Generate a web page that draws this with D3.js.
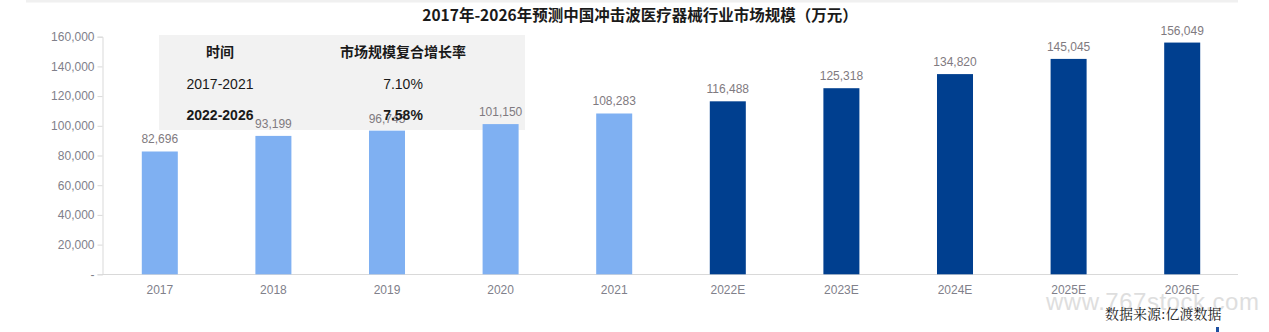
<!DOCTYPE html>
<html><head><meta charset="utf-8">
<script src="https://cdn.jsdelivr.net/npm/d3@7/dist/d3.min.js"></script>
<style>body{margin:0;background:#fff}svg{display:block}</style>
</head><body>
<svg id="c" width="1269" height="332"></svg>
<script>
const categories = ["2017","2018","2019","2020","2021","2022E","2023E","2024E","2025E","2026E"];
const values = [82696,93199,96745,101150,108283,116488,125318,134820,145045,156049];
const forecast = [false,false,false,false,false,true,true,true,true,true];
const yTicks = [0,20000,40000,60000,80000,100000,120000,140000,160000];
const tableHeader = ["时间","市场规模复合增长率"];
const tableRows = [["2017-2021","7.10%"],["2022-2026","7.58%"]];
const title = "2017年-2026年预测中国冲击波医疗器械行业市场规模（万元）";
const source = "数据来源:亿渡数据";
const watermark = "www.767stock.com";

const svg = d3.select("#c");
const font = "'Liberation Sans', Arial, sans-serif";
const x = d3.scaleBand().domain(categories).range([103, 1239]).paddingInner(0.683).paddingOuter(0.3415);
const y = d3.scaleLinear().domain([0,160000]).range([274.3, 36.7]);

// top strip
svg.append("rect").attr("x",26).attr("y",0).attr("width",1212).attr("height",2.5).attr("fill","#f0f0f0");

// title
svg.append("text").attr("x",640).attr("y",21).attr("text-anchor","middle")
  .attr("font-family","'Noto Sans CJK SC', sans-serif").attr("font-weight","bold").attr("font-size",15.5).attr("fill","#1a1a1a").text(title);

// table box
svg.append("rect").attr("x",159).attr("y",35).attr("width",366).attr("height",95).attr("fill","#f2f2f2");

// y axis
const yAxis = d3.axisLeft(y).tickValues(yTicks).tickSize(5).tickPadding(3)
  .tickFormat(d => d===0 ? "-" : d3.format(",")(d));
const ga = svg.append("g").attr("transform","translate(102.5,0)").call(yAxis);
ga.select(".domain").attr("stroke","#d9d9d9");
ga.selectAll(".tick line").attr("stroke","#d9d9d9");
ga.selectAll("text").attr("font-family",font).attr("font-size",12).attr("fill","#80808a");

// x axis
const xAxis = d3.axisBottom(x).tickSize(0).tickPadding(11);
const gx = svg.append("g").attr("transform","translate(0,274.5)").call(xAxis);
gx.select(".domain").attr("stroke","#d9d9d9").attr("d","M102,0H1238");
gx.selectAll("text").attr("font-family",font).attr("font-size",12).attr("fill","#80808a");

// bars
svg.selectAll("rect.bar").data(values).join("rect").attr("class","bar")
  .attr("x",(d,i)=>x(categories[i])).attr("width",x.bandwidth())
  .attr("y",d=>y(d)).attr("height",d=>y(0)-y(d))
  .attr("fill",(d,i)=>forecast[i] ? "#003f8f" : "#7fb0f2");

// labels
svg.selectAll("text.lbl").data(values).join("text").attr("class","lbl")
  .attr("x",(d,i)=>x(categories[i])+x.bandwidth()/2).attr("y",d=>y(d)-8)
  .attr("text-anchor","middle").attr("font-family",font).attr("font-size",12).attr("fill","#7f7a80")
  .text(d=>d3.format(",")(d));

// table text
const cjk = "'Noto Sans CJK SC', sans-serif";
const colX = [220, 403];
tableHeader.forEach((t,i)=>{
  svg.append("text").attr("x",colX[i]).attr("y",57).attr("text-anchor","middle")
    .attr("font-family",cjk).attr("font-weight","bold").attr("font-size",14).attr("fill","#1a1a1a").text(t);
});
tableRows.forEach((r,ri)=>{
  r.forEach((t,i)=>{
    svg.append("text").attr("x",colX[i]).attr("y",89+ri*31).attr("text-anchor","middle")
      .attr("font-family",font).attr("font-weight",ri===1?"bold":"normal").attr("font-size",14).attr("fill","#1a1a1a").text(t);
  });
});

// watermark
svg.append("text").attr("x",1046).attr("y",310).attr("font-family",font).attr("font-size",24)
  .attr("fill","#dedede").attr("letter-spacing",0.5).text(watermark);
// source
svg.append("text").attr("x",1105).attr("y",319).attr("font-family","'Noto Serif CJK SC','AR PL UMing CN',serif")
  .attr("font-size",14).attr("fill","#1a1a1a").text(source);
svg.append("rect").attr("x",1216).attr("y",327).attr("width",3).attr("height",5).attr("fill","#1e4fa0");
</script>
</body></html>
